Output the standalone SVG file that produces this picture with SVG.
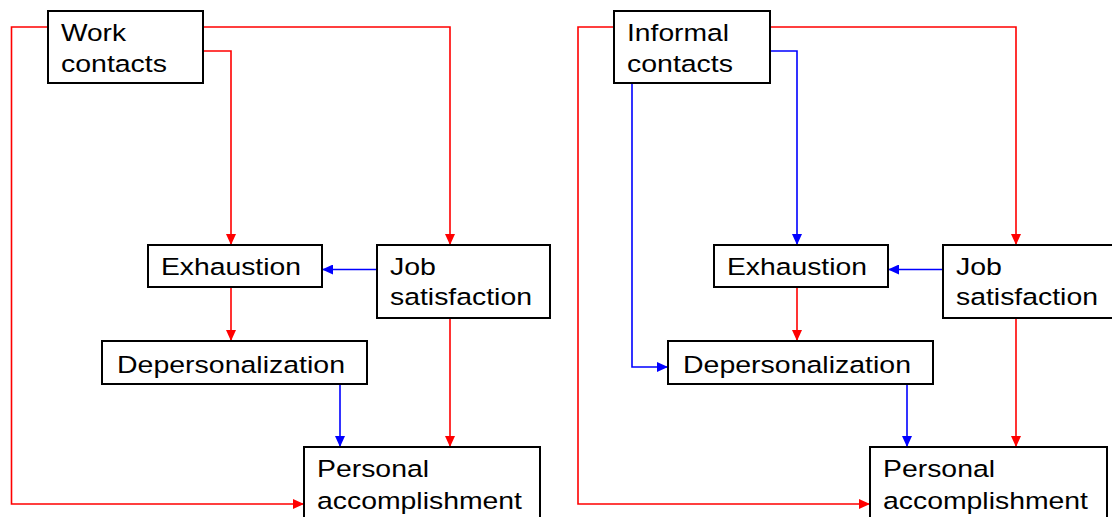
<svg xmlns="http://www.w3.org/2000/svg" width="1112" height="517" viewBox="0 0 1112 517">
  <style>
    .box { fill: #ffffff; stroke: #000000; stroke-width: 2; }
    .lbl { font-family: "Liberation Sans", Arial, sans-serif; font-size: 24.5px; fill: #000000; }
    .red { fill: none; stroke: #ff0000; stroke-width: 1.6; }
    .blue { fill: none; stroke: #0000ff; stroke-width: 1.6; }
    .red.end { marker-end: url(#arrRed); }
    .blue.end { marker-end: url(#arrBlue); }
  </style>
  <defs>
    <marker id="arrRed" markerUnits="userSpaceOnUse" markerWidth="12" markerHeight="10" refX="11" refY="5" orient="auto">
      <path d="M0,0 L11,5 L0,10 Z" fill="#ff0000"/>
    </marker>
    <marker id="arrBlue" markerUnits="userSpaceOnUse" markerWidth="12" markerHeight="10" refX="11" refY="5" orient="auto">
      <path d="M0,0 L11,5 L0,10 Z" fill="#0000ff"/>
    </marker>
  </defs>
  <rect width="1112" height="517" fill="#ffffff"/>

  <!-- connectors -->
  <g id="connectors">
    <!-- left model: work contacts -->
    <path class="red end" d="M48,27 H11.5 V504 H304"/>
    <path class="red end" d="M203,27 H450 V245"/>
    <path class="red end" d="M203,51 H231 V245"/>
    <path class="blue end" d="M377,269.5 H322"/>
    <path class="red end" d="M231,287 V341"/>
    <path class="blue end" d="M340,384 V447"/>
    <path class="red end" d="M450,318 V447"/>
    <!-- right model: informal contacts -->
    <path class="red end" d="M614,27 H578 V504 H870"/>
    <path class="red end" d="M770,27 H1016 V245"/>
    <path class="blue end" d="M770,51 H797 V245"/>
    <path class="blue end" d="M632,83 V367 H668"/>
    <path class="blue end" d="M943,269.5 H888"/>
    <path class="red end" d="M797,287 V341"/>
    <path class="blue end" d="M907,384 V447"/>
    <path class="red end" d="M1016,318 V447"/>
  </g>

  <!-- left model nodes -->
  <g id="work-contacts">
    <rect class="box" x="48" y="11" width="155" height="72"/>
    <text class="lbl" x="61" y="41" textLength="65" lengthAdjust="spacingAndGlyphs">Work</text>
    <text class="lbl" x="61" y="72" textLength="106" lengthAdjust="spacingAndGlyphs">contacts</text>
  </g>
  <g id="exhaustion-1">
    <rect class="box" x="148" y="245" width="174" height="42"/>
    <text class="lbl" x="161" y="275" textLength="140" lengthAdjust="spacingAndGlyphs">Exhaustion</text>
  </g>
  <g id="job-satisfaction-1">
    <rect class="box" x="377" y="245" width="173" height="73"/>
    <text class="lbl" x="390" y="275" textLength="46" lengthAdjust="spacingAndGlyphs">Job</text>
    <text class="lbl" x="390" y="305" textLength="142" lengthAdjust="spacingAndGlyphs">satisfaction</text>
  </g>
  <g id="depersonalization-1">
    <rect class="box" x="102" y="341" width="265" height="43"/>
    <text class="lbl" x="117" y="373" textLength="228" lengthAdjust="spacingAndGlyphs">Depersonalization</text>
  </g>
  <g id="personal-accomplishment-1">
    <rect class="box" x="304" y="447" width="236" height="100"/>
    <text class="lbl" x="317" y="477" textLength="112" lengthAdjust="spacingAndGlyphs">Personal</text>
    <text class="lbl" x="317" y="509" textLength="205" lengthAdjust="spacingAndGlyphs">accomplishment</text>
  </g>

  <!-- right model nodes -->
  <g id="informal-contacts">
    <rect class="box" x="614" y="11" width="156" height="72"/>
    <text class="lbl" x="627" y="41" textLength="102" lengthAdjust="spacingAndGlyphs">Informal</text>
    <text class="lbl" x="627" y="72" textLength="106" lengthAdjust="spacingAndGlyphs">contacts</text>
  </g>
  <g id="exhaustion-2">
    <rect class="box" x="714" y="245" width="174" height="42"/>
    <text class="lbl" x="727" y="275" textLength="140" lengthAdjust="spacingAndGlyphs">Exhaustion</text>
  </g>
  <g id="job-satisfaction-2">
    <rect class="box" x="943" y="245" width="173" height="73"/>
    <text class="lbl" x="956" y="275" textLength="46" lengthAdjust="spacingAndGlyphs">Job</text>
    <text class="lbl" x="956" y="305" textLength="142" lengthAdjust="spacingAndGlyphs">satisfaction</text>
  </g>
  <g id="depersonalization-2">
    <rect class="box" x="668" y="341" width="265" height="43"/>
    <text class="lbl" x="683" y="373" textLength="228" lengthAdjust="spacingAndGlyphs">Depersonalization</text>
  </g>
  <g id="personal-accomplishment-2">
    <rect class="box" x="870" y="447" width="237" height="100"/>
    <text class="lbl" x="883" y="477" textLength="112" lengthAdjust="spacingAndGlyphs">Personal</text>
    <text class="lbl" x="883" y="509" textLength="205" lengthAdjust="spacingAndGlyphs">accomplishment</text>
  </g>
</svg>
